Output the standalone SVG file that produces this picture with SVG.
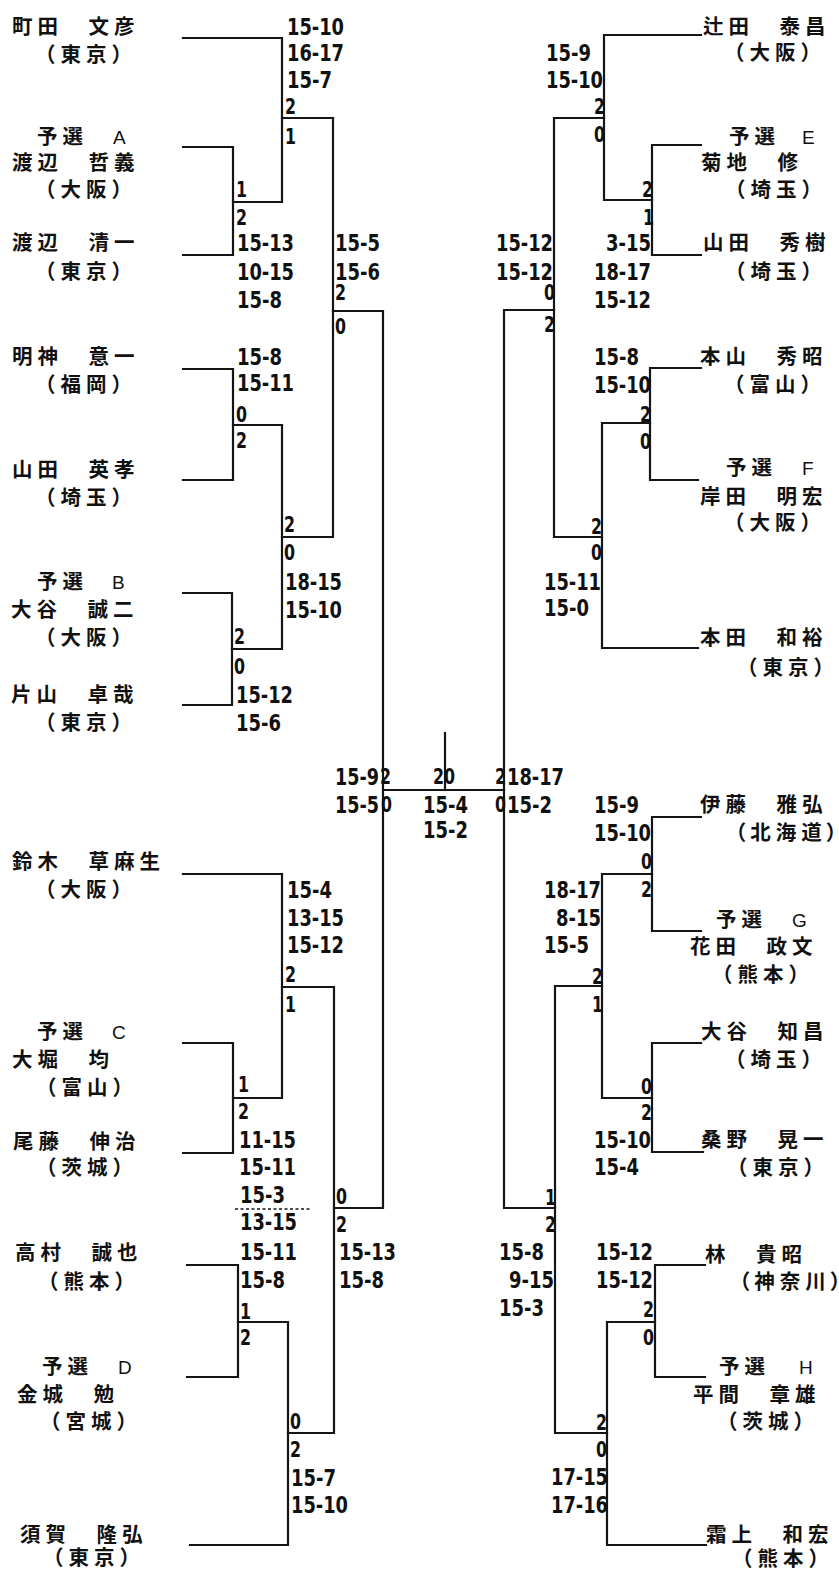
<svg xmlns="http://www.w3.org/2000/svg" width="839" height="1571" viewBox="0 0 839 1571">
<style>
.nm{font-family:"Noto Sans CJK JP","Noto Sans CJK SC",sans-serif;font-weight:bold;font-size:20.5px;letter-spacing:5px;fill:#111}
.pa{font-feature-settings:"palt" 1}
.z{letter-spacing:0}
.lt{font-family:"Liberation Sans",Arial,sans-serif;font-weight:normal;font-size:19px;letter-spacing:0}
.sc{font-family:"DejaVu Sans Condensed","DejaVu Sans",sans-serif;font-weight:bold;font-size:23px;fill:#111}
.ct{font-family:"DejaVu Sans Condensed","DejaVu Sans",sans-serif;font-weight:bold;font-size:20.5px;fill:#111}
.ln{fill:none;stroke:#151515;stroke-width:2.2;stroke-linejoin:miter;stroke-linecap:square}
</style>
<rect width="839" height="1571" fill="#ffffff"/>

<g id="connectors" class="ln">
<path d="M183,38 H282 V202 H233"/>
<path d="M183,147 H233 V255 H183"/>
<path d="M282,118 H333"/>
<path d="M183,369 H233 V480 H183"/>
<path d="M233,425 H282"/>
<path d="M183,593 H232 V705 H183"/>
<path d="M232,649 H282 V425"/>
<path d="M282,537 H333 V118"/>
<path d="M333,311 H383 V1208 H334"/>
<path d="M383,790 H504"/>
<path d="M445,733 V790"/>
<path d="M183,874 H282 V1098 H233"/>
<path d="M183,1043 H233 V1153 H183"/>
<path d="M282,987 H334 V1433 H288"/>
<path d="M187,1265 H238 V1377 H187"/>
<path d="M238,1322 H288 V1545 H190"/>
<path d="M701,35 H604 V200 H652"/>
<path d="M701,145 H652 V255 H701"/>
<path d="M604,118 H554 V537 H602"/>
<path d="M554,310 H504 V1208 H555"/>
<path d="M701,368 H650 V480 H698"/>
<path d="M650,423 H602 V648 H698"/>
<path d="M701,817 H652 V931 H701"/>
<path d="M652,874 H602 V1098 H652"/>
<path d="M701,1043 H652 V1152 H703"/>
<path d="M602,986 H555 V1433 H607"/>
<path d="M705,1265 H655 V1377 H705"/>
<path d="M655,1322 H607 V1545 H706"/>
<path d="M235,1209 H310" stroke-width="1.4" stroke-dasharray="3 2.5" stroke-linecap="butt"/>
</g>

<g id="p-machida"><text class="nm" x="12" y="34">町田　文彦</text><text class="nm" x="35" y="62">（東京）</text></g>
<g id="p-watanabe-t"><text class="nm" x="37" y="144">予選<tspan class="lt" x="113">A</tspan></text><text class="nm" x="12" y="170">渡辺　哲義</text><text class="nm" x="35" y="197">（大阪）</text></g>
<g id="p-watanabe-s"><text class="nm" x="12" y="250">渡辺　清一</text><text class="nm" x="35" y="279">（東京）</text></g>
<g id="p-myojin"><text class="nm" x="12" y="364">明神　意一</text><text class="nm" x="35" y="392">（福岡）</text></g>
<g id="p-yamada-h"><text class="nm" x="12" y="477">山田　英孝</text><text class="nm" x="35" y="505">（埼玉）</text></g>
<g id="p-otani-s"><text class="nm" x="37" y="589">予選<tspan class="lt" x="112">B</tspan></text><text class="nm" x="11" y="617">大谷　誠二</text><text class="nm" x="35" y="645">（大阪）</text></g>
<g id="p-katayama"><text class="nm" x="11" y="702">片山　卓哉</text><text class="nm" x="35" y="730">（東京）</text></g>
<g id="p-suzuki"><text class="nm" x="12" y="869">鈴木　草麻生</text><text class="nm" x="35" y="897">（大阪）</text></g>
<g id="p-ohori"><text class="nm" x="37" y="1039">予選<tspan class="lt" x="112">C</tspan></text><text class="nm" x="12" y="1067">大堀　均</text><text class="nm" x="36" y="1095">（富山）</text></g>
<g id="p-bito"><text class="nm" x="13" y="1149">尾藤　伸治</text><text class="nm" x="36" y="1175">（茨城）</text></g>
<g id="p-takamura"><text class="nm" x="15" y="1260">高村　誠也</text><text class="nm" x="38" y="1289">（熊本）</text></g>
<g id="p-kaneshiro"><text class="nm" x="42" y="1374">予選<tspan class="lt" x="118">D</tspan></text><text class="nm" x="17" y="1402">金城　勉</text><text class="nm" x="40" y="1429">（宮城）</text></g>
<g id="p-suga"><text class="nm" x="20" y="1542">須賀　隆弘</text><text class="nm" x="43" y="1565">（東京）</text></g>

<g id="p-tsujita"><text class="nm" x="703" y="34">辻田　泰昌</text><text class="nm" x="724" y="60">（大阪）</text></g>
<g id="p-kikuchi"><text class="nm" x="729" y="144">予選<tspan class="lt" x="802">E</tspan></text><text class="nm" x="701" y="170">菊地　修</text><text class="nm" x="725" y="197">（埼玉）</text></g>
<g id="p-yamada-hd"><text class="nm" x="703" y="250">山田　秀樹</text><text class="nm" x="725" y="279">（埼玉）</text></g>
<g id="p-motoyama"><text class="nm" x="700" y="364">本山　秀昭</text><text class="nm" x="724" y="392">（富山）</text></g>
<g id="p-kishida"><text class="nm" x="726" y="475">予選<tspan class="lt" x="802">F</tspan></text><text class="nm" x="700" y="504">岸田　明宏</text><text class="nm" x="724" y="530">（大阪）</text></g>
<g id="p-honda"><text class="nm" x="700" y="645">本田　和裕</text><text class="nm" x="737" y="675">（東京）</text></g>
<g id="p-ito"><text class="nm" x="700" y="812">伊藤　雅弘</text><text class="nm pa" x="735" y="840">（北海道<tspan class="z">）</tspan></text></g>
<g id="p-hanada"><text class="nm" x="716" y="927">予選<tspan class="lt" x="792">G</tspan></text><text class="nm" x="690" y="954">花田　政文</text><text class="nm" x="712" y="982">（熊本）</text></g>
<g id="p-otani-t"><text class="nm" x="701" y="1039">大谷　知昌</text><text class="nm" x="725" y="1067">（埼玉）</text></g>
<g id="p-kuwano"><text class="nm" x="701" y="1147">桑野　晃一</text><text class="nm" x="727" y="1175">（東京）</text></g>
<g id="p-hayashi"><text class="nm" x="705" y="1262">林　貴昭</text><text class="nm pa" x="739" y="1289">（神奈川<tspan class="z">）</tspan></text></g>
<g id="p-hirama"><text class="nm" x="719" y="1374">予選<tspan class="lt" x="799">H</tspan></text><text class="nm" x="693" y="1402">平間　章雄</text><text class="nm" x="717" y="1429">（茨城）</text></g>
<g id="p-shimogami"><text class="nm" x="706" y="1542">霜上　和宏</text><text class="nm" x="732" y="1566">（熊本）</text></g>

<g id="scores">
<text class="sc" x="287" y="35" textLength="57" lengthAdjust="spacingAndGlyphs">15-10</text><text class="sc" x="287" y="61" textLength="57" lengthAdjust="spacingAndGlyphs">16-17</text><text class="sc" x="287" y="88" textLength="45" lengthAdjust="spacingAndGlyphs">15-7</text>
<text class="ct" x="285" y="114" textLength="11" lengthAdjust="spacingAndGlyphs">2</text><text class="ct" x="285" y="144" textLength="11" lengthAdjust="spacingAndGlyphs">1</text>
<text class="ct" x="236" y="197" textLength="11" lengthAdjust="spacingAndGlyphs">1</text><text class="ct" x="236" y="225" textLength="11" lengthAdjust="spacingAndGlyphs">2</text>
<text class="sc" x="237" y="251" textLength="57" lengthAdjust="spacingAndGlyphs">15-13</text><text class="sc" x="237" y="280" textLength="57" lengthAdjust="spacingAndGlyphs">10-15</text><text class="sc" x="237" y="308" textLength="45" lengthAdjust="spacingAndGlyphs">15-8</text>
<text class="sc" x="335" y="251" textLength="45" lengthAdjust="spacingAndGlyphs">15-5</text><text class="sc" x="335" y="280" textLength="45" lengthAdjust="spacingAndGlyphs">15-6</text>
<text class="ct" x="335" y="300" textLength="11" lengthAdjust="spacingAndGlyphs">2</text><text class="ct" x="335" y="334" textLength="11" lengthAdjust="spacingAndGlyphs">0</text>
<text class="sc" x="237" y="365" textLength="45" lengthAdjust="spacingAndGlyphs">15-8</text><text class="sc" x="237" y="391" textLength="57" lengthAdjust="spacingAndGlyphs">15-11</text>
<text class="ct" x="236" y="422" textLength="11" lengthAdjust="spacingAndGlyphs">0</text><text class="ct" x="236" y="448" textLength="11" lengthAdjust="spacingAndGlyphs">2</text>
<text class="ct" x="284" y="532" textLength="11" lengthAdjust="spacingAndGlyphs">2</text><text class="ct" x="284" y="560" textLength="11" lengthAdjust="spacingAndGlyphs">0</text>
<text class="sc" x="285" y="590" textLength="57" lengthAdjust="spacingAndGlyphs">18-15</text><text class="sc" x="285" y="618" textLength="57" lengthAdjust="spacingAndGlyphs">15-10</text>
<text class="ct" x="234" y="644" textLength="11" lengthAdjust="spacingAndGlyphs">2</text><text class="ct" x="234" y="674" textLength="11" lengthAdjust="spacingAndGlyphs">0</text>
<text class="sc" x="236" y="703" textLength="57" lengthAdjust="spacingAndGlyphs">15-12</text><text class="sc" x="236" y="731" textLength="45" lengthAdjust="spacingAndGlyphs">15-6</text>

<text class="sc" x="335" y="785" textLength="44" lengthAdjust="spacingAndGlyphs">15-9</text><text class="ct" x="380" y="784" textLength="11" lengthAdjust="spacingAndGlyphs">2</text>
<text class="sc" x="335" y="813" textLength="44" lengthAdjust="spacingAndGlyphs">15-5</text><text class="ct" x="381" y="812" textLength="11" lengthAdjust="spacingAndGlyphs">0</text>
<text class="ct" x="433" y="784" textLength="22" lengthAdjust="spacingAndGlyphs">20</text>
<text class="sc" x="423" y="813" textLength="45" lengthAdjust="spacingAndGlyphs">15-4</text><text class="sc" x="423" y="838" textLength="45" lengthAdjust="spacingAndGlyphs">15-2</text>
<text class="ct" x="495" y="784" textLength="11" lengthAdjust="spacingAndGlyphs">2</text><text class="sc" x="507" y="785" textLength="57" lengthAdjust="spacingAndGlyphs">18-17</text>
<text class="ct" x="495" y="812" textLength="11" lengthAdjust="spacingAndGlyphs">0</text><text class="sc" x="507" y="813" textLength="45" lengthAdjust="spacingAndGlyphs">15-2</text>

<text class="sc" x="287" y="898" textLength="45" lengthAdjust="spacingAndGlyphs">15-4</text><text class="sc" x="287" y="926" textLength="57" lengthAdjust="spacingAndGlyphs">13-15</text><text class="sc" x="287" y="953" textLength="57" lengthAdjust="spacingAndGlyphs">15-12</text>
<text class="ct" x="285" y="982" textLength="11" lengthAdjust="spacingAndGlyphs">2</text><text class="ct" x="285" y="1012" textLength="11" lengthAdjust="spacingAndGlyphs">1</text>
<text class="ct" x="238" y="1092" textLength="11" lengthAdjust="spacingAndGlyphs">1</text><text class="ct" x="238" y="1119" textLength="11" lengthAdjust="spacingAndGlyphs">2</text>
<text class="sc" x="239" y="1148" textLength="57" lengthAdjust="spacingAndGlyphs">11-15</text><text class="sc" x="239" y="1175" textLength="57" lengthAdjust="spacingAndGlyphs">15-11</text><text class="sc" x="240" y="1203" textLength="45" lengthAdjust="spacingAndGlyphs">15-3</text>
<text class="sc" x="240" y="1230" textLength="57" lengthAdjust="spacingAndGlyphs">13-15</text><text class="sc" x="240" y="1260" textLength="57" lengthAdjust="spacingAndGlyphs">15-11</text><text class="sc" x="240" y="1288" textLength="45" lengthAdjust="spacingAndGlyphs">15-8</text>
<text class="ct" x="336" y="1204" textLength="11" lengthAdjust="spacingAndGlyphs">0</text><text class="ct" x="336" y="1232" textLength="11" lengthAdjust="spacingAndGlyphs">2</text>
<text class="sc" x="339" y="1260" textLength="57" lengthAdjust="spacingAndGlyphs">15-13</text><text class="sc" x="339" y="1288" textLength="45" lengthAdjust="spacingAndGlyphs">15-8</text>
<text class="ct" x="240" y="1319" textLength="11" lengthAdjust="spacingAndGlyphs">1</text><text class="ct" x="240" y="1345" textLength="11" lengthAdjust="spacingAndGlyphs">2</text>
<text class="ct" x="290" y="1429" textLength="11" lengthAdjust="spacingAndGlyphs">0</text><text class="ct" x="290" y="1457" textLength="11" lengthAdjust="spacingAndGlyphs">2</text>
<text class="sc" x="291" y="1486" textLength="45" lengthAdjust="spacingAndGlyphs">15-7</text><text class="sc" x="291" y="1513" textLength="57" lengthAdjust="spacingAndGlyphs">15-10</text>

<text class="sc" x="546" y="61" textLength="45" lengthAdjust="spacingAndGlyphs">15-9</text><text class="sc" x="546" y="88" textLength="57" lengthAdjust="spacingAndGlyphs">15-10</text>
<text class="ct" x="594" y="114" textLength="11" lengthAdjust="spacingAndGlyphs">2</text><text class="ct" x="594" y="142" textLength="11" lengthAdjust="spacingAndGlyphs">0</text>
<text class="ct" x="642" y="197" textLength="11" lengthAdjust="spacingAndGlyphs">2</text><text class="ct" x="643" y="225" textLength="11" lengthAdjust="spacingAndGlyphs">1</text>
<text class="sc" x="496" y="251" textLength="57" lengthAdjust="spacingAndGlyphs">15-12</text><text class="sc" x="496" y="280" textLength="57" lengthAdjust="spacingAndGlyphs">15-12</text>
<text class="ct" x="544" y="300" textLength="11" lengthAdjust="spacingAndGlyphs">0</text><text class="ct" x="544" y="332" textLength="11" lengthAdjust="spacingAndGlyphs">2</text>
<text class="sc" x="606" y="251" textLength="45" lengthAdjust="spacingAndGlyphs">3-15</text><text class="sc" x="594" y="280" textLength="57" lengthAdjust="spacingAndGlyphs">18-17</text><text class="sc" x="594" y="308" textLength="57" lengthAdjust="spacingAndGlyphs">15-12</text>
<text class="sc" x="594" y="365" textLength="45" lengthAdjust="spacingAndGlyphs">15-8</text><text class="sc" x="594" y="393" textLength="57" lengthAdjust="spacingAndGlyphs">15-10</text>
<text class="ct" x="640" y="422" textLength="11" lengthAdjust="spacingAndGlyphs">2</text><text class="ct" x="640" y="449" textLength="11" lengthAdjust="spacingAndGlyphs">0</text>
<text class="ct" x="591" y="534" textLength="11" lengthAdjust="spacingAndGlyphs">2</text><text class="ct" x="591" y="560" textLength="11" lengthAdjust="spacingAndGlyphs">0</text>
<text class="sc" x="544" y="590" textLength="57" lengthAdjust="spacingAndGlyphs">15-11</text><text class="sc" x="544" y="616" textLength="45" lengthAdjust="spacingAndGlyphs">15-0</text>

<text class="sc" x="594" y="813" textLength="45" lengthAdjust="spacingAndGlyphs">15-9</text><text class="sc" x="594" y="841" textLength="57" lengthAdjust="spacingAndGlyphs">15-10</text>
<text class="ct" x="641" y="869" textLength="11" lengthAdjust="spacingAndGlyphs">0</text><text class="ct" x="641" y="897" textLength="11" lengthAdjust="spacingAndGlyphs">2</text>
<text class="sc" x="544" y="898" textLength="57" lengthAdjust="spacingAndGlyphs">18-17</text><text class="sc" x="556" y="926" textLength="45" lengthAdjust="spacingAndGlyphs">8-15</text><text class="sc" x="544" y="953" textLength="45" lengthAdjust="spacingAndGlyphs">15-5</text>
<text class="ct" x="592" y="984" textLength="11" lengthAdjust="spacingAndGlyphs">2</text><text class="ct" x="592" y="1012" textLength="11" lengthAdjust="spacingAndGlyphs">1</text>
<text class="ct" x="641" y="1094" textLength="11" lengthAdjust="spacingAndGlyphs">0</text><text class="ct" x="641" y="1120" textLength="11" lengthAdjust="spacingAndGlyphs">2</text>
<text class="sc" x="594" y="1148" textLength="57" lengthAdjust="spacingAndGlyphs">15-10</text><text class="sc" x="594" y="1175" textLength="45" lengthAdjust="spacingAndGlyphs">15-4</text>
<text class="ct" x="545" y="1205" textLength="11" lengthAdjust="spacingAndGlyphs">1</text><text class="ct" x="545" y="1232" textLength="11" lengthAdjust="spacingAndGlyphs">2</text>
<text class="sc" x="499" y="1260" textLength="45" lengthAdjust="spacingAndGlyphs">15-8</text><text class="sc" x="509" y="1288" textLength="45" lengthAdjust="spacingAndGlyphs">9-15</text><text class="sc" x="499" y="1316" textLength="45" lengthAdjust="spacingAndGlyphs">15-3</text>
<text class="sc" x="596" y="1260" textLength="57" lengthAdjust="spacingAndGlyphs">15-12</text><text class="sc" x="596" y="1288" textLength="57" lengthAdjust="spacingAndGlyphs">15-12</text>
<text class="ct" x="643" y="1317" textLength="11" lengthAdjust="spacingAndGlyphs">2</text><text class="ct" x="643" y="1345" textLength="11" lengthAdjust="spacingAndGlyphs">0</text>
<text class="ct" x="596" y="1430" textLength="11" lengthAdjust="spacingAndGlyphs">2</text><text class="ct" x="596" y="1457" textLength="11" lengthAdjust="spacingAndGlyphs">0</text>
<text class="sc" x="551" y="1485" textLength="57" lengthAdjust="spacingAndGlyphs">17-15</text><text class="sc" x="551" y="1513" textLength="57" lengthAdjust="spacingAndGlyphs">17-16</text>
</g>
</svg>
